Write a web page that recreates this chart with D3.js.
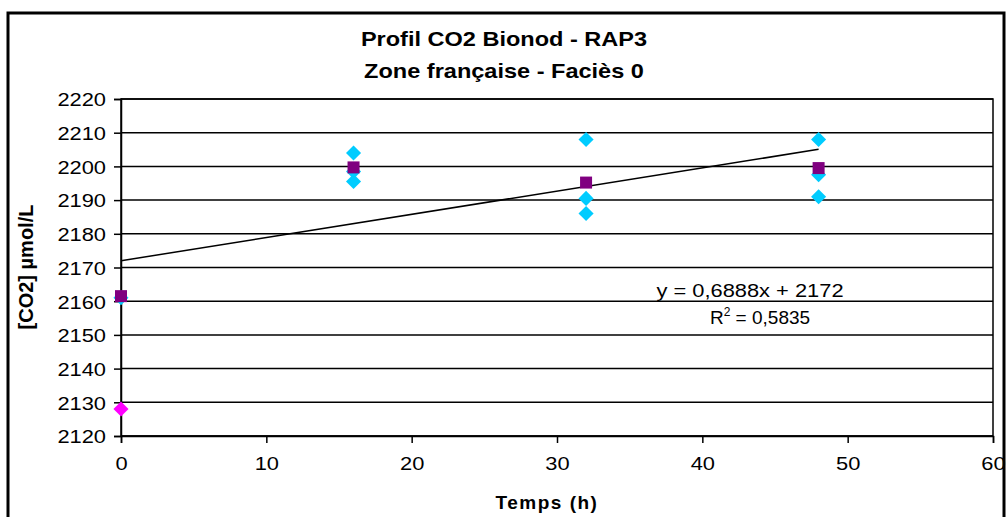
<!DOCTYPE html>
<html>
<head>
<meta charset="utf-8">
<script src="https://cdn.jsdelivr.net/npm/d3@7"></script>
<style>
    body { margin: 0; background: #fff; }
    text { font-family: "Liberation Sans", Arial, sans-serif; }
</style>
</head>
<body>
<svg id="chart" width="1008" height="517"></svg>
<script>
// mesures individuelles (losanges bleus)
var pointTimes = [0, 16, 16, 16, 32, 32, 32, 48, 48, 48];
var pointValues = [2161, 2204, 2198.5, 2195.5, 2208, 2190.5, 2186, 2208, 2197.5, 2191];
// point écarté (losange rose)
var outlierTimes = [0];
var outlierValues = [2128];
// moyennes (carrés violets)
var meanTimes = [0, 16, 32, 48];
var meanValues = [2161.5, 2199.7, 2195.2, 2199.5];
// courbe de tendance
var trendSlope = 0.6888;
var trendIntercept = 2172;
var trendRange = [0, 48];
var xTicks = [0, 10, 20, 30, 40, 50, 60];
var yTicks = [2120, 2130, 2140, 2150, 2160, 2170, 2180, 2190, 2200, 2210, 2220];

var svg = d3.select("#chart");
var plot = { left: 121, right: 993, top: 99, bottom: 436 };

var x = d3.scaleLinear().domain([0, 60]).range([plot.left, plot.right]);
var y = d3.scaleLinear().domain([2120, 2220]).range([plot.bottom, plot.top]);

// cadre extérieur
svg.append("rect")
    .attr("x", 8)
    .attr("y", 13)
    .attr("width", 996)
    .attr("height", 520)
    .attr("fill", "none")
    .attr("stroke", "#000")
    .attr("stroke-width", 3);

// quadrillage horizontal
svg.append("g")
    .selectAll("line")
    .data(yTicks)
    .join("line")
    .attr("x1", plot.left)
    .attr("x2", plot.right)
    .attr("y1", (d) => y(d))
    .attr("y2", (d) => y(d))
    .attr("stroke", "#000")
    .attr("stroke-width", 1.5);

svg.append("rect")
    .attr("x", plot.left)
    .attr("y", plot.top)
    .attr("width", plot.right - plot.left)
    .attr("height", plot.bottom - plot.top)
    .attr("fill", "none")
    .attr("stroke", "#000")
    .attr("stroke-width", 1.5);

// axes
var yAxis = svg.append("g")
    .attr("transform", "translate(" + plot.left + ",0)")
    .call(d3.axisLeft(y).tickValues(yTicks).tickFormat(d3.format("d")).tickSize(7).tickPadding(8));
var xAxis = svg.append("g")
    .attr("transform", "translate(0," + plot.bottom + ")")
    .call(d3.axisBottom(x).tickValues(xTicks).tickFormat(d3.format("d")).tickSize(7).tickPadding(14));

[yAxis, xAxis].forEach((g) => {
    g.select(".domain").attr("stroke", "#000").attr("stroke-width", 1.5);
    g.selectAll(".tick line").attr("stroke", "#000").attr("stroke-width", 1.5);
    g.selectAll(".tick text")
        .attr("fill", "#000")
        .style("font-size", "19px")
        .style("font-family", "'Liberation Sans', Arial, sans-serif");
});
yAxis.selectAll(".tick text").attr("dy", "0.36em");

// texte un peu élargi comme dans l'original
function widen(sel, factor) {
    sel.each(function () {
        var w = this.getComputedTextLength();
        d3.select(this)
            .attr("textLength", w * factor)
            .attr("lengthAdjust", "spacingAndGlyphs");
    });
}
widen(yAxis.selectAll(".tick text"), 1.15);
widen(xAxis.selectAll(".tick text"), 1.15);

// ligne de tendance
var trendLine = d3.line()
    .x((d) => x(d))
    .y((d) => y(trendIntercept + trendSlope * d));
svg.append("path")
    .datum(trendRange)
    .attr("d", trendLine)
    .attr("fill", "none")
    .attr("stroke", "#000")
    .attr("stroke-width", 1.5);

var diamond = d3.symbol().type(d3.symbolDiamond2).size(145);

svg.append("g")
    .selectAll("path")
    .data(pointValues)
    .join("path")
    .attr("d", diamond)
    .attr("transform", (d, i) => "translate(" + x(pointTimes[i]) + "," + y(d) + ")")
    .attr("fill", "#00CCFF");

svg.append("g")
    .selectAll("path")
    .data(outlierValues)
    .join("path")
    .attr("d", diamond)
    .attr("transform", (d, i) => "translate(" + x(outlierTimes[i]) + "," + y(d) + ")")
    .attr("fill", "#FF00FF");

svg.append("g")
    .selectAll("rect")
    .data(meanValues)
    .join("rect")
    .attr("x", (d, i) => x(meanTimes[i]) - 6)
    .attr("y", (d) => y(d) - 6)
    .attr("width", 12)
    .attr("height", 12)
    .attr("fill", "#800080");

// équation
var eq = svg.append("text")
    .attr("x", 750)
    .attr("y", 297)
    .attr("text-anchor", "middle")
    .style("font-size", "19px")
    .text("y = 0,6888x + 2172");
widen(eq, 1.15);

var r2 = svg.append("text")
    .attr("x", 760)
    .attr("y", 324)
    .attr("text-anchor", "middle")
    .style("font-size", "19px");
r2.append("tspan").text("R");
r2.append("tspan").attr("dy", -8).style("font-size", "12px").text("2");
r2.append("tspan").attr("dy", 8).text(" = 0,5835");

// titres
var t1 = svg.append("text")
    .attr("x", 504)
    .attr("y", 46)
    .attr("text-anchor", "middle")
    .style("font-size", "21px")
    .style("font-weight", "bold")
    .text("Profil CO2 Bionod - RAP3");
var t2 = svg.append("text")
    .attr("x", 504)
    .attr("y", 78)
    .attr("text-anchor", "middle")
    .style("font-size", "21px")
    .style("font-weight", "bold")
    .text("Zone française - Faciès 0");
widen(t1, 1.12);
widen(t2, 1.12);

svg.append("text")
    .attr("x", 547)
    .attr("y", 509)
    .attr("text-anchor", "middle")
    .style("font-size", "19px")
    .style("font-weight", "bold")
    .style("letter-spacing", "1.5px")
    .text("Temps (h)");

svg.append("text")
    .attr("transform", "translate(33,267) rotate(-90)")
    .attr("text-anchor", "middle")
    .style("font-size", "20px")
    .style("font-weight", "bold")
    .text("[CO2] µmol/L");
</script>
</body>
</html>
